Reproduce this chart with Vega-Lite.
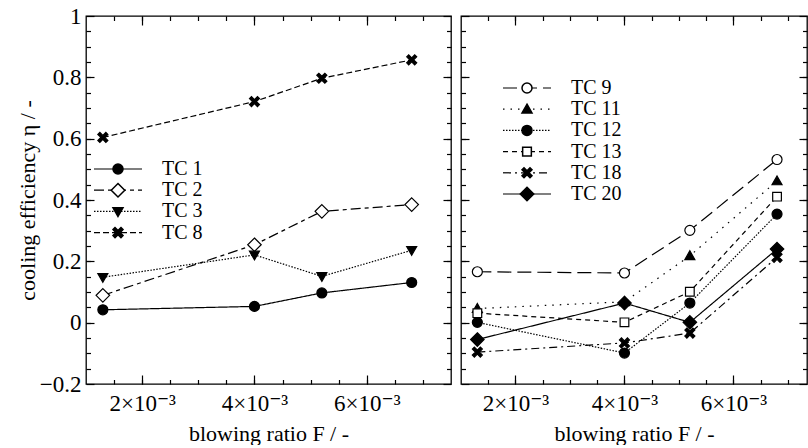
{
  "$schema": "https://vega.github.io/schema/vega-lite/v6.json",
  "padding": {"left": 15, "top": 4, "right": 0, "bottom": 0},
  "background": "white",
  "datasets": {
    "left": [
      {"series": "TC 1", "x": 0.0013, "y": 0.042},
      {"series": "TC 1", "x": 0.0040, "y": 0.053},
      {"series": "TC 1", "x": 0.0052, "y": 0.097},
      {"series": "TC 1", "x": 0.0068, "y": 0.131},
      {"series": "TC 2", "x": 0.0013, "y": 0.089},
      {"series": "TC 2", "x": 0.0040, "y": 0.254},
      {"series": "TC 2", "x": 0.0052, "y": 0.363},
      {"series": "TC 2", "x": 0.0068, "y": 0.385},
      {"series": "TC 3", "x": 0.0013, "y": 0.148},
      {"series": "TC 3", "x": 0.0040, "y": 0.221},
      {"series": "TC 3", "x": 0.0052, "y": 0.151},
      {"series": "TC 3", "x": 0.0068, "y": 0.236},
      {"series": "TC 8", "x": 0.0013, "y": 0.604},
      {"series": "TC 8", "x": 0.0040, "y": 0.721},
      {"series": "TC 8", "x": 0.0052, "y": 0.797},
      {"series": "TC 8", "x": 0.0068, "y": 0.857}
    ],
    "right": [
      {"series": "TC 9", "x": 0.0013, "y": 0.166},
      {"series": "TC 9", "x": 0.0040, "y": 0.162},
      {"series": "TC 9", "x": 0.0052, "y": 0.301},
      {"series": "TC 9", "x": 0.0068, "y": 0.532},
      {"series": "TC 11", "x": 0.0013, "y": 0.046},
      {"series": "TC 11", "x": 0.0040, "y": 0.068},
      {"series": "TC 11", "x": 0.0052, "y": 0.218},
      {"series": "TC 11", "x": 0.0068, "y": 0.462},
      {"series": "TC 12", "x": 0.0013, "y": 0.001},
      {"series": "TC 12", "x": 0.0040, "y": -0.099},
      {"series": "TC 12", "x": 0.0052, "y": 0.064},
      {"series": "TC 12", "x": 0.0068, "y": 0.354},
      {"series": "TC 13", "x": 0.0013, "y": 0.031},
      {"series": "TC 13", "x": 0.0040, "y": 0.001},
      {"series": "TC 13", "x": 0.0052, "y": 0.101},
      {"series": "TC 13", "x": 0.0068, "y": 0.411},
      {"series": "TC 18", "x": 0.0013, "y": -0.096},
      {"series": "TC 18", "x": 0.0040, "y": -0.066},
      {"series": "TC 18", "x": 0.0052, "y": -0.034},
      {"series": "TC 18", "x": 0.0068, "y": 0.213},
      {"series": "TC 20", "x": 0.0013, "y": -0.055},
      {"series": "TC 20", "x": 0.0040, "y": 0.064},
      {"series": "TC 20", "x": 0.0052, "y": 0.001},
      {"series": "TC 20", "x": 0.0068, "y": 0.240}
    ]
  },
  "hconcat": [
    {
      "width": 365,
      "height": 368,
      "data": {"name": "left"},
      "resolve": {"axis": {"x": "independent", "y": "independent"}},
      "layer": [
        {
          "mark": {"type": "line", "color": "black", "strokeWidth": 1.2},
          "encoding": {
            "x": {"field": "x", "type": "quantitative", "scale": {"domain": [0.001, 0.0075], "nice": false, "zero": false},
              "axis": {"orient": "bottom", "values": [0.002, 0.004, 0.006], "tickSize": -9, "labelPadding": 17, "labelExpr": "round(datum.value*1000) + '×10⁻³'", "title": "blowing ratio F / -", "titlePadding": 8}},
            "y": {"field": "y", "type": "quantitative", "scale": {"domain": [-0.2, 1], "nice": false, "zero": false},
              "axis": {"orient": "left", "values": [-0.2, 0, 0.2, 0.4, 0.6, 0.8, 1], "tickSize": -8, "labelPadding": 13, "format": "~g", "title": "cooling efficiency η / -", "titlePadding": 0}},
            "strokeDash": {"field": "series", "type": "nominal", "sort": ["TC 1", "TC 2", "TC 3", "TC 8"],
              "scale": {"range": [[1, 0], [10, 4, 4, 4], [1.5, 1.5], [6, 3]]},
              "legend": {"orient": "none", "legendX": 22, "legendY": 143, "title": null, "symbolType": "M-4.8,0H4.8", "symbolSize": 100, "symbolStrokeWidth": 1.2, "symbolStrokeColor": "black", "labelOffset": 34, "rowPadding": 1.2, "padding": 0}}
          }
        },
        {
          "mark": {"type": "point", "filled": true, "stroke": "black", "strokeWidth": 1.2, "opacity": 1, "size": 100},
          "encoding": {
            "x": {"field": "x", "type": "quantitative", "scale": {"domain": [0.001, 0.0075], "nice": false, "zero": false},
              "axis": {"orient": "bottom", "values": [0.0015, 0.002, 0.0025, 0.003, 0.0035, 0.004, 0.0045, 0.005, 0.0055, 0.006, 0.0065, 0.007], "tickSize": -4.5, "labels": false, "title": null}},
            "y": {"field": "y", "type": "quantitative", "scale": {"domain": [-0.2, 1], "nice": false, "zero": false},
              "axis": {"orient": "left", "values": [-0.15, -0.1, -0.05, 0, 0.05, 0.1, 0.15, 0.2, 0.25, 0.3, 0.35, 0.4, 0.45, 0.5, 0.55, 0.6, 0.65, 0.7, 0.75, 0.8, 0.85, 0.9, 0.95], "tickSize": -4.5, "labels": false, "title": null}},
            "shape": {"field": "series", "type": "nominal",
              "scale": {"domain": ["TC 1", "TC 2", "TC 3", "TC 8"], "range": ["circle", "M0,-1.35L1.35,0L0,1.35L-1.35,0Z", "M0,1L1,-0.75L-1,-0.75Z", "M-1,-0.6L-0.6,-1L0,-0.4L0.6,-1L1,-0.6L0.4,0L1,0.6L0.6,1L0,0.4L-0.6,1L-1,0.6L-0.4,0Z"]},
              "legend": {"orient": "none", "legendX": 22, "legendY": 143, "title": null, "labelExpr": "' '", "symbolSize": 100, "labelOffset": 34, "rowPadding": 1.2, "padding": 0,
                "encode": {"symbols": {"update": {"stroke": {"value": "black"}, "strokeWidth": {"value": 1.2}}}}}},
            "fill": {"field": "series", "type": "nominal",
              "scale": {"domain": ["TC 1", "TC 2", "TC 3", "TC 8"], "range": ["black", "white", "black", "black"]},
              "legend": {"orient": "none", "legendX": 22, "legendY": 143, "title": null, "labelExpr": "' '", "symbolSize": 100, "labelOffset": 34, "rowPadding": 1.2, "padding": 0,
                "encode": {"symbols": {"update": {"stroke": {"value": "black"}, "strokeWidth": {"value": 1.2}}}}}}
          }
        },
        {
          "mark": {"type": "point", "opacity": 0},
          "encoding": {
            "x": {"field": "x", "type": "quantitative", "scale": {"domain": [0.001, 0.0075], "nice": false, "zero": false},
              "axis": {"orient": "top", "values": [0.002, 0.004, 0.006], "tickSize": -9, "labels": false, "title": null}},
            "y": {"field": "y", "type": "quantitative", "scale": {"domain": [-0.2, 1], "nice": false, "zero": false},
              "axis": {"orient": "right", "values": [-0.2, 0, 0.2, 0.4, 0.6, 0.8, 1], "tickSize": -8, "labels": false, "title": null}}
          }
        },
        {
          "mark": {"type": "point", "opacity": 0},
          "encoding": {
            "x": {"field": "x", "type": "quantitative", "scale": {"domain": [0.001, 0.0075], "nice": false, "zero": false},
              "axis": {"orient": "top", "values": [0.0015, 0.002, 0.0025, 0.003, 0.0035, 0.004, 0.0045, 0.005, 0.0055, 0.006, 0.0065, 0.007], "tickSize": -4.5, "labels": false, "title": null}},
            "y": {"field": "y", "type": "quantitative", "scale": {"domain": [-0.2, 1], "nice": false, "zero": false},
              "axis": {"orient": "right", "values": [-0.15, -0.1, -0.05, 0, 0.05, 0.1, 0.15, 0.2, 0.25, 0.3, 0.35, 0.4, 0.45, 0.5, 0.55, 0.6, 0.65, 0.7, 0.75, 0.8, 0.85, 0.9, 0.95], "tickSize": -4.5, "labels": false, "title": null}}
          }
        }
      ]
    },
    {
      "width": 346,
      "height": 368,
      "data": {"name": "right"},
      "resolve": {"axis": {"x": "independent", "y": "independent"}},
      "layer": [
        {
          "mark": {"type": "line", "color": "black", "strokeWidth": 1.2},
          "encoding": {
            "x": {"field": "x", "type": "quantitative", "scale": {"domain": [0.001, 0.00735], "nice": false, "zero": false},
              "axis": {"orient": "bottom", "values": [0.002, 0.004, 0.006], "tickSize": -9, "labelPadding": 17, "labelExpr": "round(datum.value*1000) + '×10⁻³'", "title": "blowing ratio F / -", "titlePadding": 8}},
            "y": {"field": "y", "type": "quantitative", "scale": {"domain": [-0.2, 1], "nice": false, "zero": false},
              "axis": {"orient": "left", "values": [-0.2, 0, 0.2, 0.4, 0.6, 0.8, 1], "tickSize": -8, "labels": false, "title": null}},
            "strokeDash": {"field": "series", "type": "nominal", "sort": ["TC 9", "TC 11", "TC 12", "TC 13", "TC 18", "TC 20"],
              "scale": {"range": [[14, 6], [1.5, 6], [1.5, 1.5], [5, 4], [8, 4, 2, 4], [1, 0]]},
              "legend": {"orient": "none", "legendX": 56, "legendY": 62, "title": null, "symbolType": "M-4.8,0H4.8", "symbolSize": 100, "symbolStrokeWidth": 1.2, "symbolStrokeColor": "black", "labelOffset": 34, "rowPadding": 1.2, "padding": 0}}
          }
        },
        {
          "mark": {"type": "point", "filled": true, "stroke": "black", "strokeWidth": 1.2, "opacity": 1, "size": 100},
          "encoding": {
            "x": {"field": "x", "type": "quantitative", "scale": {"domain": [0.001, 0.00735], "nice": false, "zero": false},
              "axis": {"orient": "bottom", "values": [0.0015, 0.002, 0.0025, 0.003, 0.0035, 0.004, 0.0045, 0.005, 0.0055, 0.006, 0.0065, 0.007], "tickSize": -4.5, "labels": false, "title": null}},
            "y": {"field": "y", "type": "quantitative", "scale": {"domain": [-0.2, 1], "nice": false, "zero": false},
              "axis": {"orient": "left", "values": [-0.15, -0.1, -0.05, 0, 0.05, 0.1, 0.15, 0.2, 0.25, 0.3, 0.35, 0.4, 0.45, 0.5, 0.55, 0.6, 0.65, 0.7, 0.75, 0.8, 0.85, 0.9, 0.95], "tickSize": -4.5, "labels": false, "title": null}},
            "shape": {"field": "series", "type": "nominal",
              "scale": {"domain": ["TC 9", "TC 11", "TC 12", "TC 13", "TC 18", "TC 20"], "range": ["circle", "M0,-1L1,0.75L-1,0.75Z", "circle", "M-0.87,-0.87H0.87V0.87H-0.87Z", "M-1,-0.6L-0.6,-1L0,-0.4L0.6,-1L1,-0.6L0.4,0L1,0.6L0.6,1L0,0.4L-0.6,1L-1,0.6L-0.4,0Z", "M0,-1.35L1.35,0L0,1.35L-1.35,0Z"]},
              "legend": {"orient": "none", "legendX": 56, "legendY": 62, "title": null, "labelExpr": "' '", "symbolSize": 100, "labelOffset": 34, "rowPadding": 1.2, "padding": 0,
                "encode": {"symbols": {"update": {"stroke": {"value": "black"}, "strokeWidth": {"value": 1.2}}}}}},
            "fill": {"field": "series", "type": "nominal",
              "scale": {"domain": ["TC 9", "TC 11", "TC 12", "TC 13", "TC 18", "TC 20"], "range": ["white", "black", "black", "white", "black", "black"]},
              "legend": {"orient": "none", "legendX": 56, "legendY": 62, "title": null, "labelExpr": "' '", "symbolSize": 100, "labelOffset": 34, "rowPadding": 1.2, "padding": 0,
                "encode": {"symbols": {"update": {"stroke": {"value": "black"}, "strokeWidth": {"value": 1.2}}}}}}
          }
        },
        {
          "mark": {"type": "point", "opacity": 0},
          "encoding": {
            "x": {"field": "x", "type": "quantitative", "scale": {"domain": [0.001, 0.00735], "nice": false, "zero": false},
              "axis": {"orient": "top", "values": [0.002, 0.004, 0.006], "tickSize": -9, "labels": false, "title": null}},
            "y": {"field": "y", "type": "quantitative", "scale": {"domain": [-0.2, 1], "nice": false, "zero": false},
              "axis": {"orient": "right", "values": [-0.2, 0, 0.2, 0.4, 0.6, 0.8, 1], "tickSize": -8, "labels": false, "title": null}}
          }
        },
        {
          "mark": {"type": "point", "opacity": 0},
          "encoding": {
            "x": {"field": "x", "type": "quantitative", "scale": {"domain": [0.001, 0.00735], "nice": false, "zero": false},
              "axis": {"orient": "top", "values": [0.0015, 0.002, 0.0025, 0.003, 0.0035, 0.004, 0.0045, 0.005, 0.0055, 0.006, 0.0065, 0.007], "tickSize": -4.5, "labels": false, "title": null}},
            "y": {"field": "y", "type": "quantitative", "scale": {"domain": [-0.2, 1], "nice": false, "zero": false},
              "axis": {"orient": "right", "values": [-0.15, -0.1, -0.05, 0, 0.05, 0.1, 0.15, 0.2, 0.25, 0.3, 0.35, 0.4, 0.45, 0.5, 0.55, 0.6, 0.65, 0.7, 0.75, 0.8, 0.85, 0.9, 0.95], "tickSize": -4.5, "labels": false, "title": null}}
          }
        }
      ]
    }
  ],
  "spacing": 10,
  "bounds": "flush",
  "resolve": {
    "scale": {"shape": "independent", "fill": "independent", "strokeDash": "independent"},
    "legend": {"shape": "independent", "fill": "independent", "strokeDash": "independent"}
  },
  "config": {
    "font": "Liberation Serif, Times New Roman, DejaVu Serif, serif",
    "view": {"stroke": "black", "strokeWidth": 1.3},
    "axis": {"domain": false, "grid": false, "tickColor": "black", "tickWidth": 1.2, "labelColor": "black", "titleColor": "black", "labelFont": "Liberation Serif, Times New Roman, DejaVu Serif, serif", "titleFont": "Liberation Serif, Times New Roman, DejaVu Serif, serif", "labelFontSize": 23, "titleFontSize": 22, "titleFontWeight": "normal", "labelFlush": false, "labelBound": false, "labelOverlap": false, "minExtent": 0},
    "legend": {"labelFont": "Liberation Serif, Times New Roman, DejaVu Serif, serif", "labelFontSize": 20, "labelColor": "black", "labelLimit": 0}
  }
}
